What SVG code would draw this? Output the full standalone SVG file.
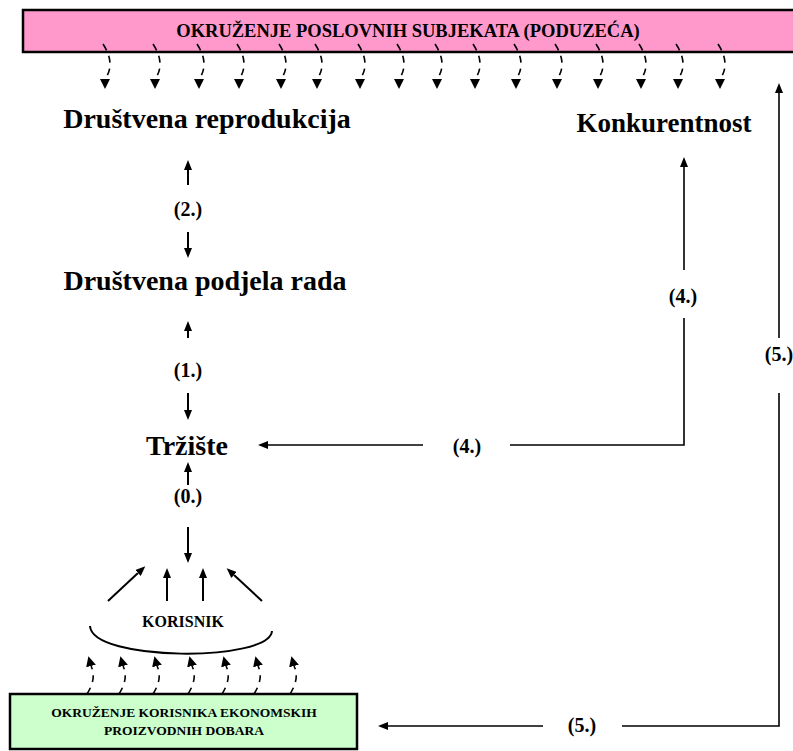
<svg xmlns="http://www.w3.org/2000/svg" width="793" height="751" viewBox="0 0 793 751">
<defs>
<style>
.t{font-family:"Liberation Serif","Times New Roman",serif;font-weight:bold;fill:#000;text-anchor:middle}
.h{font-size:28px}
.l{font-size:20px}
.c{stroke:#000;stroke-width:1.6;fill:none}
.s{stroke:#000;stroke-width:2;fill:none}
.d{stroke:#000;stroke-width:1.6;fill:none;stroke-dasharray:7,6}
</style>
<marker id="ah" viewBox="0 0 10 8" refX="0" refY="4" markerWidth="10" markerHeight="8" markerUnits="userSpaceOnUse" orient="auto"><path d="M0,0 L10,4 L0,8 z" fill="#000"/></marker>
<marker id="dn" viewBox="0 0 10 10" refX="0" refY="5" markerWidth="10" markerHeight="10" markerUnits="userSpaceOnUse" orient="90"><path d="M0,0 L10,5 L0,10 z" fill="#000"/></marker>
<marker id="up" viewBox="0 0 10 10" refX="0" refY="5" markerWidth="10" markerHeight="10" markerUnits="userSpaceOnUse" orient="-105"><path d="M0,0 L10,5 L0,10 z" fill="#000"/></marker>
</defs>
<rect width="793" height="751" fill="#fff"/>

<g id="okruzenje-poslovnih">
<rect x="23" y="10" width="780" height="42" fill="#ff99cc" stroke="#000" stroke-width="2.5"/>
<text class="t" x="408" y="37" style="font-size:18.5px">OKRUŽENJE POSLOVNIH SUBJEKATA (PODUZEĆA)</text>
</g>

<g id="okruzenje-korisnika">
<rect x="10" y="694" width="347" height="55" fill="#ccffcc" stroke="#000" stroke-width="2.5"/>
<text class="t" x="184" y="717" style="font-size:13.5px">OKRUŽENJE KORISNIKA EKONOMSKIH</text>
<text class="t" x="184" y="735" style="font-size:13.5px">PROIZVODNIH DOBARA</text>
</g>

<g id="drustvena-reprodukcija"><text class="t h" x="207" y="128">Društvena reprodukcija</text></g>
<g id="konkurentnost"><text class="t h" x="664" y="132" style="font-size:27px">Konkurentnost</text></g>
<g id="drustvena-podjela-rada"><text class="t h" x="205" y="290">Društvena podjela rada</text></g>
<g id="trziste"><text class="t h" x="187" y="455">Tržište</text></g>
<g id="korisnik">
<text class="t" x="183" y="627" style="font-size:16px">KORISNIK</text>
<path class="s" d="M90,626 C92,662 270,662 272,631"/>
</g>

<g id="connectors">
<g class="d" marker-end="url(#dn)">
<path d="M103,44 Q116,64 105,79"/>
<path d="M153,44 Q166,64 155,79"/>
<path d="M197,44 Q210,64 199,79"/>
<path d="M237,44 Q250,64 239,79"/>
<path d="M279,44 Q292,64 281,79"/>
<path d="M315,44 Q328,64 317,79"/>
<path d="M358,44 Q371,64 360,79"/>
<path d="M397,44 Q410,64 399,79"/>
<path d="M435,44 Q448,64 437,79"/>
<path d="M473,44 Q486,64 475,79"/>
<path d="M514,44 Q527,64 516,79"/>
<path d="M555,44 Q568,64 557,79"/>
<path d="M596,44 Q609,64 598,79"/>
<path d="M639,44 Q652,64 641,79"/>
<path d="M676,44 Q689,64 678,79"/>
<path d="M718,44 Q731,64 720,79"/>
</g>
<g class="d" marker-end="url(#up)">
<path d="M87,694 Q97,678 91,666"/>
<path d="M119,694 Q129,678 123,666"/>
<path d="M153,694 Q163,678 157,666"/>
<path d="M188,694 Q198,678 192,666"/>
<path d="M222,694 Q232,678 226,666"/>
<path d="M254,694 Q264,678 258,666"/>
<path d="M290,694 Q300,678 294,666"/>
</g>
<g class="s" marker-end="url(#ah)">
<path d="M188,185 V170"/>
<path d="M188,232 V248"/>
<path d="M188,338 V331"/>
<path d="M188,393 V410"/>
<path d="M188,485 V472"/>
<path d="M188,527 V553"/>
<path d="M108,601 L138,573"/>
<path d="M167,601 V578"/>
<path d="M203,601 V578"/>
<path d="M262,601 L234,575"/>
</g>
<text class="t l" x="188" y="216">(2.)</text>
<text class="t l" x="188" y="377">(1.)</text>
<text class="t l" x="188" y="503">(0.)</text>
<path class="c" d="M684,318 V445 H510"/>
<path class="c" d="M684,270 V167" marker-end="url(#ah)"/>
<path class="c" d="M423,445 H268" marker-end="url(#ah)"/>
<text class="t l" x="683" y="303">(4.)</text>
<text class="t l" x="467" y="453">(4.)</text>
<path class="c" d="M779,393 V726 H622"/>
<path class="c" d="M779,338 V93" marker-end="url(#ah)"/>
<path class="c" d="M543,726 H388" marker-end="url(#ah)"/>
<text class="t l" x="779" y="361">(5.)</text>
<text class="t l" x="582" y="732">(5.)</text>
</g>
</svg>
